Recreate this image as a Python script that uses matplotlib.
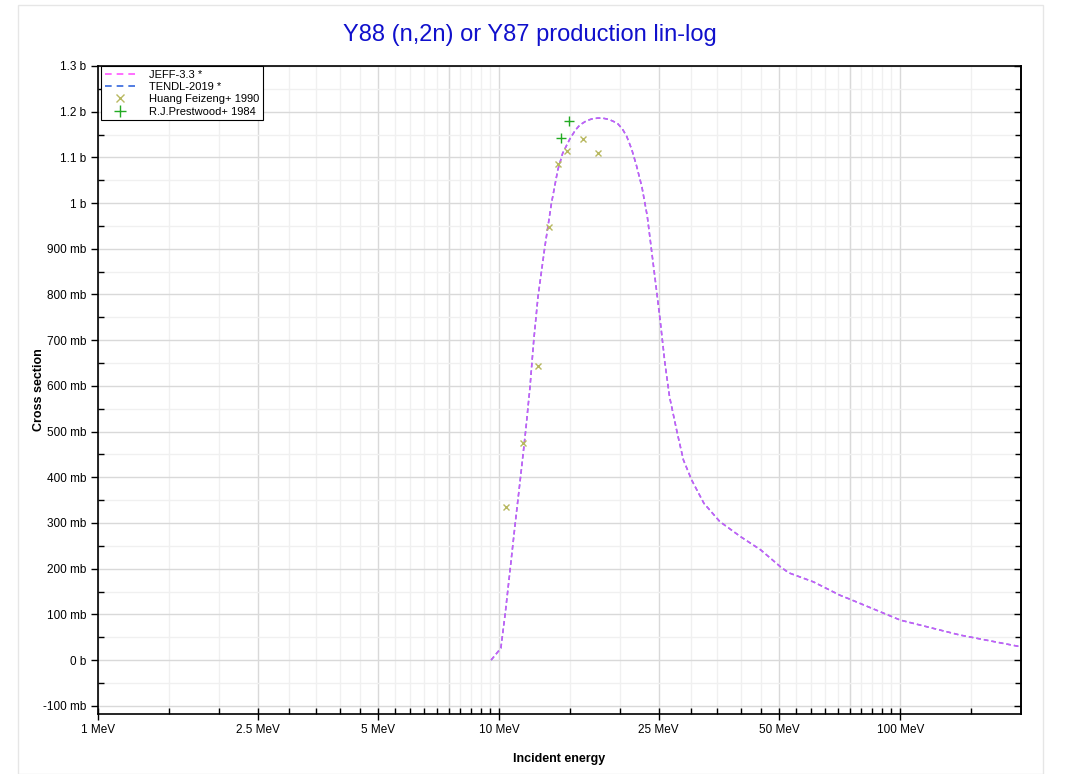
import matplotlib
matplotlib.use('Agg')
import matplotlib.pyplot as plt
from matplotlib.ticker import FixedLocator, FixedFormatter, NullFormatter
from matplotlib.lines import Line2D
from matplotlib.patches import Rectangle

plt.rcParams['font.family'] = ['Liberation Sans', 'DejaVu Sans']

# Datos evaluados (MeV, mb)
energia = [9.55, 10.1, 10.36, 10.67, 10.99, 11.31, 11.65, 11.94, 12.2, 12.5,
           13.0, 13.5, 14.0, 14.4, 15.0, 15.5, 15.9, 16.5, 17.0, 17.6, 18.1, 18.8, 19.7, 20.3, 20.8,
           21.4, 22.0, 22.7, 23.4, 24.5, 25.2, 25.9, 26.6, 27.8, 28.8, 30.2, 32.4,
           35.5, 40.0, 44.9, 50.3, 52.7, 60.8, 70.7, 75.0, 100, 141, 200]
jeff = [0, 26, 103, 204, 306, 401, 503, 598, 700, 795,
        904, 999, 1072, 1109, 1140, 1160, 1171, 1180, 1184, 1186, 1186, 1183, 1175, 1162, 1146,
        1118, 1082, 1035, 972, 832, 744, 650, 576, 497, 438, 394, 343,
        303, 270, 241, 204, 191, 171, 142, 133, 87.5, 54.7, 29]
tendl = list(jeff)

# Datos experimentales
huang_e = [10.4, 11.5, 12.5, 13.3, 14.0, 14.8, 16.2, 17.6]
huang_s = [335, 476, 644, 948, 1085, 1114, 1140, 1109]
prest_e = [14.3, 14.9]
prest_s = [1142, 1180]

xticks = [1, 2.5, 5, 10, 25, 50, 100]
xlabels = ['1 MeV', '2.5 MeV', '5 MeV', '10 MeV', '25 MeV', '50 MeV', '100 MeV']
xminor = [1.5, 2, 3, 3.5, 4, 4.5, 5.5, 6, 6.5, 7, 7.5, 8, 8.5, 9, 9.5,
          15, 20, 30, 35, 40, 45, 55, 60, 65, 70, 75, 80, 85, 90, 95, 150]
yticks = [-100, 0, 100, 200, 300, 400, 500, 600, 700, 800, 900, 1000, 1100, 1200, 1300]
ylabels = ['-100 mb', '0 b', '100 mb', '200 mb', '300 mb', '400 mb', '500 mb', '600 mb',
           '700 mb', '800 mb', '900 mb', '1 b', '1.1 b', '1.2 b', '1.3 b']
yminor = [-50, 50, 150, 250, 350, 450, 550, 650, 750, 850, 950, 1050, 1150, 1250]

c_jeff = '#ff55ff'
c_tendl = '#3366dd'
c_huang = '#b8b860'
c_prest = '#22aa22'

fig = plt.figure(figsize=(10.69, 7.74), dpi=100)
fig.patches.append(Rectangle((18 / 1069, 0), 1025 / 1069, 769 / 774, transform=fig.transFigure,
                             fill=False, edgecolor='#e6e6e6', linewidth=1))
ax = fig.add_axes([98 / 1069, 1 - 714 / 774, 923 / 1069, 648 / 774])
ax.set_xscale('log')
ax.set_xlim(1, 200)
ax.set_ylim(-118, 1300)

# Rejilla
for v in xminor:
    ax.axvline(v, color='#f0f0f0', lw=1, zorder=0)
for v in xticks + [7.5, 75]:
    ax.axvline(v, color='#d9d9d9', lw=1, zorder=0)
for v in yminor:
    ax.axhline(v, color='#f0f0f0', lw=1, zorder=0)
for v in yticks:
    ax.axhline(v, color='#d9d9d9', lw=1, zorder=0)

ax.plot(energia, tendl, color=c_tendl, lw=1.1, ls=(0, (3, 2)), zorder=3)
ax.plot(energia, jeff, color=c_jeff, lw=1.1, ls=(0, (3, 2)), alpha=0.75, zorder=3)
ax.plot(huang_e, huang_s, 'x', color=c_huang, ms=5, mew=1, zorder=4)
ax.plot(prest_e, prest_s, '+', color=c_prest, ms=7, mew=1, zorder=4)

ax.xaxis.set_major_locator(FixedLocator(xticks))
ax.xaxis.set_major_formatter(FixedFormatter(xlabels))
ax.xaxis.set_minor_locator(FixedLocator(xminor))
ax.xaxis.set_minor_formatter(NullFormatter())
ax.yaxis.set_major_locator(FixedLocator(yticks))
ax.yaxis.set_major_formatter(FixedFormatter(ylabels))
ax.yaxis.set_minor_locator(FixedLocator(yminor))

ax.tick_params(axis='x', which='major', direction='inout', length=9, width=1, labelsize=8.5, pad=3)
ax.tick_params(axis='x', which='minor', direction='in', length=4, width=1)
ax.tick_params(axis='y', which='major', direction='out', length=5, width=1, labelsize=8.5)
ax.tick_params(axis='y', which='minor', direction='in', length=4, width=1)

# Marcas internas del eje derecho
der = ax.secondary_yaxis('right')
der.yaxis.set_major_locator(FixedLocator(yticks))
der.yaxis.set_minor_locator(FixedLocator(yminor))
der.tick_params(which='both', direction='in', length=5, width=1, labelright=False)
der.tick_params(which='minor', length=4)
der.spines['right'].set_linewidth(1.2)
for s in ax.spines.values():
    s.set_linewidth(1.2)

ax.set_xlabel('Incident energy', fontsize=9, fontweight='bold', labelpad=12)
ax.set_ylabel('Cross section', fontsize=9, fontweight='bold')
ax.yaxis.set_label_coords(-0.057, 0.5)
fig.text(530 / 1069, 1 - 35 / 774, 'Y88 (n,2n) or Y87 production lin-log', color='#1010cc',
         fontsize=17, ha='center', va='center')

handles = [Line2D([], [], color=c_jeff, lw=1.2, ls=(0, (4, 3))),
           Line2D([], [], color=c_tendl, lw=1.2, ls=(0, (4, 3))),
           Line2D([], [], ls='none', marker='x', color=c_huang, ms=6),
           Line2D([], [], ls='none', marker='+', color=c_prest, ms=8)]
leg = ax.legend(handles, ['JEFF-3.3 *', 'TENDL-2019 *', 'Huang Feizeng+ 1990', 'R.J.Prestwood+ 1984'],
                loc='upper left', bbox_to_anchor=(0.003, 1.0), borderaxespad=0, fontsize=8,
                fancybox=False, framealpha=1, edgecolor='black', labelspacing=0.2,
                handlelength=2.8, borderpad=0.35, handletextpad=1.2)
leg.get_frame().set_linewidth(0.8)

fig.savefig('out.png', dpi=100)
